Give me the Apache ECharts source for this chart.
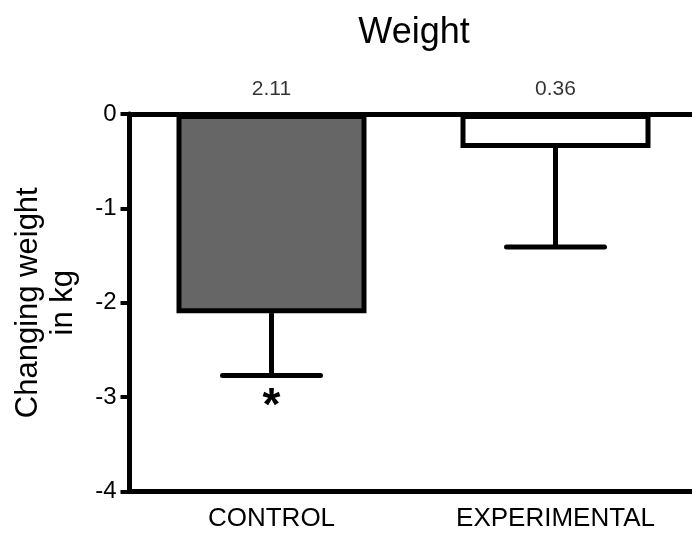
<!DOCTYPE html>
<html>
<head>
<meta charset="utf-8">
<script src="https://cdn.jsdelivr.net/npm/echarts@6/dist/echarts.min.js"></script>
<style>
  html, body { margin: 0; padding: 0; background: #ffffff; }
  #chart { width: 692px; height: 535px; }
</style>
</head>
<body>
<div id="chart"></div>
<script>
// Group names along the x axis
const categories = ['CONTROL', 'EXPERIMENTAL'];
// Mean change in body weight (kg) per group
const meanChange = [-2.11, -0.36];
// Standard deviation of the change (kg), drawn downward from each mean
const sdChange = [0.66, 1.05];
// Significance marker printed below each error bar
const significance = ['*', ''];
// Value axis range and step
const yMin = -4;
const yMax = 0;
const yStep = 1;

const FONT = '"Liberation Sans", Arial, Helvetica, sans-serif';
const barFills = ['#666666', '#ffffff'];

const chart = echarts.init(document.getElementById('chart'));

const option = {
  animation: false,
  backgroundColor: '#ffffff',
  title: {
    text: 'Weight',
    left: 409,
    top: 10,
    textAlign: 'center',
    textStyle: { fontFamily: FONT, fontSize: 36, fontWeight: 'normal', color: '#000' }
  },
  grid: {
    left: 129.5,
    top: 114,
    width: 568,
    bottom: 43.5,
    containLabel: false,
    outerBoundsMode: 'none'
  },
  xAxis: [
    {
      type: 'category',
      data: categories,
      position: 'bottom',
      axisLine: { onZero: false, lineStyle: { color: '#000', width: 5 } },
      axisTick: { alignWithLabel: true, length: 8, lineStyle: { color: '#000', width: 4 } },
      axisLabel: { margin: 14, color: '#000', fontFamily: FONT, fontSize: 26 }
    },
    {
      type: 'category',
      data: categories,
      position: 'top',
      axisLine: { onZero: false, lineStyle: { color: '#000', width: 5 } },
      axisTick: { show: false },
      axisLabel: { show: false }
    }
  ],
  yAxis: {
    type: 'value',
    min: yMin,
    max: yMax,
    interval: yStep,
    name: 'Changing weight\nin kg',
    nameLocation: 'middle',
    nameRotate: 90,
    nameGap: 49,
    nameTextStyle: { fontFamily: FONT, fontSize: 31, color: '#000', lineHeight: 35 },
    splitLine: { show: false },
    axisLine: { show: true, lineStyle: { color: '#000', width: 5 } },
    axisTick: { show: true, length: 9, lineStyle: { color: '#000', width: 4 } },
    axisLabel: { margin: 13, color: '#000', fontFamily: FONT, fontSize: 24 }
  },
  series: [
    {
      type: 'bar',
      xAxisIndex: 0,
      barWidth: 190,
      data: meanChange.map((v, i) => ({
        value: v,
        itemStyle: { color: barFills[i], borderColor: '#000', borderWidth: 5 }
      })),
      z: 3
    },
    {
      // SD whiskers with caps, plus the significance marker below
      type: 'custom',
      xAxisIndex: 0,
      data: categories.map((c, i) => [i, meanChange[i], meanChange[i] - sdChange[i]]),
      renderItem: function (params, api) {
        const idx = api.value(0);
        const top = api.coord([idx, api.value(1)]);
        const low = api.coord([idx, api.value(2)]);
        const half = 49;
        const stroke = { stroke: '#000', lineWidth: 5, lineCap: 'round' };
        const children = [
          { type: 'line', shape: { x1: top[0], y1: top[1], x2: low[0], y2: low[1] }, style: { stroke: '#000', lineWidth: 5 } },
          { type: 'line', shape: { x1: low[0] - half, y1: low[1], x2: low[0] + half, y2: low[1] }, style: stroke }
        ];
        const mark = significance[params.dataIndex];
        if (mark) {
          children.push({
            type: 'text',
            x: low[0],
            y: low[1] + 32,
            style: {
              text: mark,
              font: 'bold 46px ' + FONT,
              fill: '#000',
              textAlign: 'center',
              textVerticalAlign: 'middle'
            }
          });
        }
        return { type: 'group', children: children };
      },
      z: 2
    },
    {
      // Magnitude of each mean printed above the zero line
      type: 'scatter',
      xAxisIndex: 0,
      symbolSize: 0,
      data: categories.map((c, i) => [i, 0]),
      label: {
        show: true,
        position: 'top',
        distance: 14,
        color: '#000',
        fontFamily: FONT,
        fontSize: 21,
        formatter: p => Math.abs(meanChange[p.dataIndex]).toFixed(2)
      },
      z: 4
    }
  ]
};

chart.setOption(option);
</script>
</body>
</html>
